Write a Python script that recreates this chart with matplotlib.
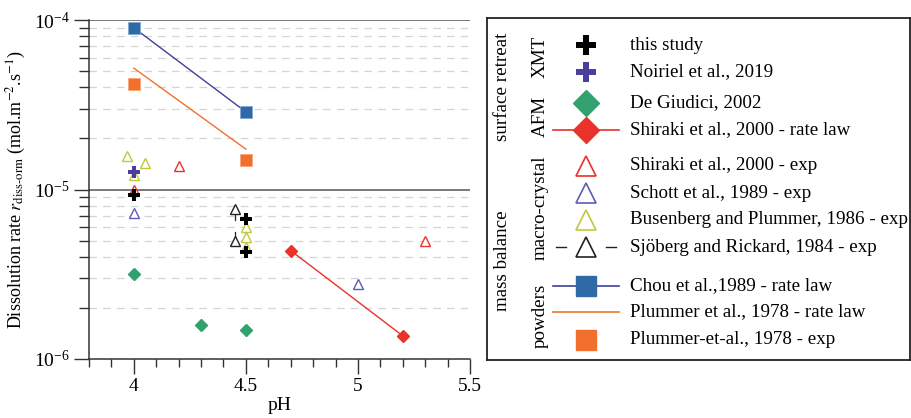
import matplotlib
matplotlib.use("Agg")
import matplotlib.pyplot as plt
import numpy as np
from matplotlib.ticker import LogLocator, FixedLocator, LogFormatterSciNotation

plt.rcParams['font.family'] = ['Liberation Serif', 'DejaVu Serif']
plt.rcParams['mathtext.fontset'] = 'stix'

# --- data (pH, rate in mol.m-2.s-1) ---
this_study_ph = [4.0, 4.5, 4.5]
this_study_r = [9.3e-6, 6.7e-6, 4.26e-6]

noiriel_ph = [4.0]
noiriel_r = [1.26e-5]

degiudici_ph = [4.0, 4.3, 4.5]
degiudici_r = [3.16e-6, 1.59e-6, 1.48e-6]

shiraki_law_ph = [4.7, 5.2]
shiraki_law_r = [4.36e-6, 1.37e-6]

shiraki_exp_ph = [4.0, 4.2, 5.3]
shiraki_exp_r = [9.9e-6, 1.38e-5, 4.97e-6]

schott_ph = [4.0, 5.0]
schott_r = [7.24e-6, 2.77e-6]

busenberg_ph = [3.97, 4.05, 4.0, 4.5, 4.5, 4.5]
busenberg_r = [1.58e-5, 1.43e-5, 1.22e-5, 6.0e-6, 5.25e-6, 4.58e-6]

sjoberg_ph = [4.45, 4.45]
sjoberg_r = [7.64e-6, 5.0e-6]
sjoberg_tail = [6.6e-6, 5.6e-6]  # end of the bound line drawn from each triangle

chou_ph = [4.0, 4.5]
chou_r = [9.0e-5, 2.87e-5]

plummer_law_ph = [4.0, 4.5]
plummer_law_r = [5.2e-5, 1.73e-5]

plummer_exp_ph = [4.0, 4.5]
plummer_exp_r = [4.19e-5, 1.49e-5]

# colours
c_black = '#000000'
c_noiriel = '#4a3f9e'
c_green = '#33a06f'
c_red = '#e8322a'
c_schott = '#5b5db4'
c_yellow = '#c2c83a'
c_chou = '#2f6aa6'
c_chou_line = '#3f3f9f'
c_orange = '#f1712c'

fig = plt.figure(figsize=(9.11, 4.18), dpi=100)
ax = fig.add_axes([89 / 911, 1 - 359 / 418, 381 / 911, 339 / 418])

ax.set_yscale('log')
ax.set_xlim(3.8, 5.5)
ax.set_ylim(1e-6, 1e-4)

# grid: solid at decades, dashed at the minor values
for v in [1e-5, 1e-4]:
    ax.axhline(v, color='#555555', lw=1.1, zorder=1)
for dec in [1e-6, 1e-5]:
    for k in range(2, 10):
        ax.axhline(k * dec, color='#d4d4d4', lw=0.9, ls=(0, (6, 5)), zorder=0)

# lines
ax.plot(chou_ph, chou_r, color=c_chou_line, lw=1.0, zorder=2)
ax.plot(plummer_law_ph, plummer_law_r, color=c_orange, lw=1.0, zorder=2)
ax.plot(shiraki_law_ph, shiraki_law_r, color=c_red, lw=1.0, marker='D', ms=6,
        mfc=c_red, mec=c_red, zorder=3)

# Sjöberg bound lines
for x, y0, y1 in zip(sjoberg_ph, sjoberg_r, sjoberg_tail):
    ax.plot([x, x], [y0, y1], color='#222222', lw=0.9, zorder=3)

tri = dict(marker='^', ls='none', ms=7, mfc='white', mew=1.0, zorder=4)
ax.plot(busenberg_ph, busenberg_r, mec=c_yellow, **tri)
ax.plot(shiraki_exp_ph, shiraki_exp_r, mec=c_red, **tri)
ax.plot(schott_ph, schott_r, mec=c_schott, **tri)
ax.plot(sjoberg_ph, sjoberg_r, mec='#222222', **tri)

ax.plot(chou_ph, chou_r, 's', ms=8, color=c_chou, mec='#7fa7cf', mew=0.6, zorder=5)
ax.plot(plummer_exp_ph, plummer_exp_r, 's', ms=8, color=c_orange, mec='#f6a77a', mew=0.6, zorder=5)
ax.plot(degiudici_ph, degiudici_r, 'D', ms=6, color=c_green, zorder=5)
ax.plot(noiriel_ph, noiriel_r, 'P', ms=9, color=c_noiriel, mew=0, zorder=6)
ax.plot(this_study_ph, this_study_r, 'P', ms=9, color=c_black, mew=0, zorder=6)

# axes styling
for s in ['top', 'right']:
    ax.spines[s].set_visible(False)
for s in ['left', 'bottom']:
    ax.spines[s].set_color('#333333')
    ax.spines[s].set_linewidth(1.1)

ax.xaxis.set_major_locator(FixedLocator([4, 4.5, 5, 5.5]))
ax.xaxis.set_minor_locator(FixedLocator(np.arange(3.8, 5.55, 0.1)))
ax.set_xticklabels(['4', '4.5', '5', '5.5'])
ax.yaxis.set_major_locator(LogLocator(base=10, numticks=5))
ax.yaxis.set_minor_locator(LogLocator(base=10, subs=np.arange(2, 10), numticks=10))
ax.yaxis.set_major_formatter(LogFormatterSciNotation())
ax.tick_params(which='major', direction='out', length=11, width=1.0, color='#333333',
               labelsize=14, pad=3)
ax.tick_params(which='minor', direction='out', length=6, width=1.0, color='#333333')
ax.tick_params(axis='y', which='minor', length=7)

ax.set_xlabel('pH', fontsize=14, labelpad=1)
ax.set_ylabel(r'Dissolution rate $r_{\mathrm{diss\text{-}orm}}$ (mol.m$^{-2}$.s$^{-1}$)',
              fontsize=13, labelpad=4)

# --- legend panel ---
lg = fig.add_axes([487 / 911, 1 - 360 / 418, 423 / 911, 342 / 418])
lg.set_xlim(487, 910)
lg.set_ylim(360, 18)
lg.set_xticks([])
lg.set_yticks([])
for s in lg.spines.values():
    s.set_color('#222222')
    s.set_linewidth(1.3)

hx = 586
line_x = [553, 619]
tx = 630
rows = [
    ('this study', 45, dict(marker='P', ms=15, color=c_black, mew=0), False),
    ('Noiriel et al., 2019', 72, dict(marker='P', ms=15, color=c_noiriel, mew=0), False),
    ('De Giudici, 2002', 103, dict(marker='D', ms=13, color=c_green), False),
    ('Shiraki et al., 2000 - rate law', 130, dict(marker='D', ms=13, color=c_red), c_red),
    ('Shiraki et al., 2000 - exp', 166, dict(marker='^', ms=14, mfc='white', mec=c_red, mew=1.2), False),
    ('Schott et al., 1989 - exp', 193, dict(marker='^', ms=14, mfc='white', mec=c_schott, mew=1.2), False),
    ('Busenberg and Plummer, 1986 - exp', 220, dict(marker='^', ms=14, mfc='white', mec=c_yellow, mew=1.2), False),
    ('Sjöberg and Rickard, 1984 - exp', 247, dict(marker='^', ms=14, mfc='white', mec='#222222', mew=1.2), 'dash'),
    ('Chou et al.,1989 - rate law', 286, dict(marker='s', ms=15, color=c_chou), c_chou_line),
    ('Plummer et al., 1978 - rate law', 312, None, c_orange),
    ('Plummer-et-al., 1978 - exp', 340, dict(marker='s', ms=15, color=c_orange), False),
]
for label, y, mk, line in rows:
    if line == 'dash':
        lg.plot([556, 566], [y, y], color='#222222', lw=1.0)
        lg.plot([606, 616], [y, y], color='#222222', lw=1.0)
    elif line:
        lg.plot(line_x, [y, y], color=line, lw=1.2)
    if mk is not None:
        lg.plot([hx], [y], ls='none', **mk)
    lg.text(tx, y, label, fontsize=13.7, va='center', ha='left')

for txt, x, y in [('surface retreat', 503, 87), ('mass balance', 503, 261),
                  ('XMT', 540, 57), ('AFM', 540, 116), ('macro-crystal', 540, 208),
                  ('powders', 540, 316)]:
    lg.text(x, y, txt, rotation=90, fontsize=13.7, va='center', ha='center')

fig.savefig('out.png', dpi=100)
